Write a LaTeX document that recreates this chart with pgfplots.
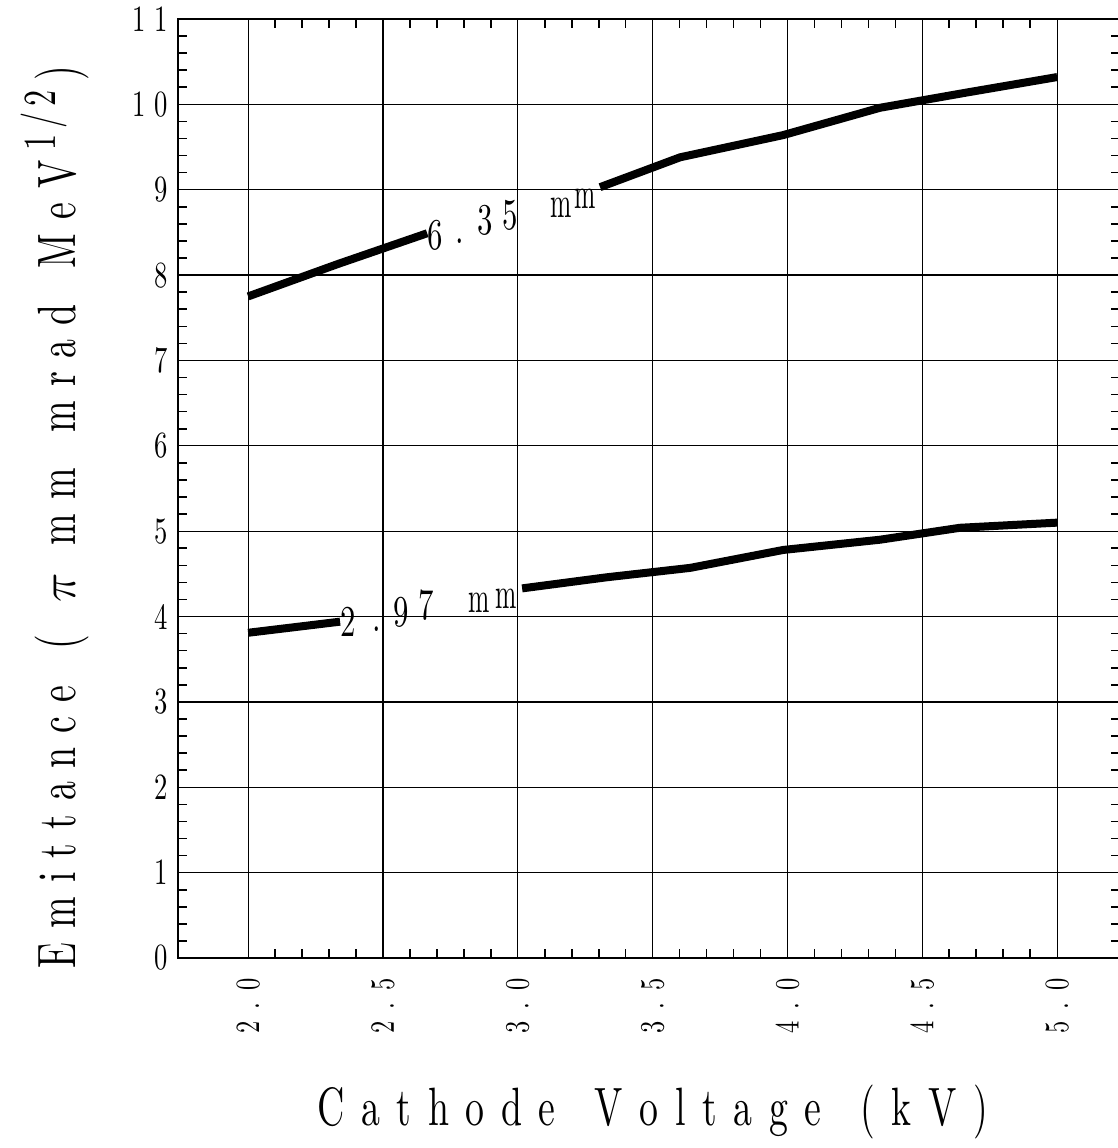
\documentclass[border=0pt]{standalone}
\usepackage{pgfplots}
\pgfplotsset{compat=1.18}
\usepackage{fontspec}
\newfontfamily\labfont[FakeStretch=0.7]{lmroman10-regular.otf}
\newfontfamily\tickfont[FakeStretch=0.72]{lmroman10-regular.otf}
\newfontfamily\annfont[FakeStretch=0.7]{lmroman10-regular.otf}
\newfontfamily\annmfont[FakeStretch=0.58]{lmroman10-regular.otf}
\newdimen\lsk
\def\ls#1{\lsfirst#1\relax}
\def\lsfirst#1{#1\lsrest}
\def\lsrest#1{\ifx#1\relax\else\kern\lsk#1\expandafter\lsrest\fi}
\newcommand\ann[3]{\node[anchor=base west,inner sep=0pt,font=\annfont\fontsize{22pt}{24pt}\selectfont] at (axis cs:#1,#2) {#3};}
\newcommand\annm[2]{\node[anchor=base west,inner sep=0pt,font=\annmfont\fontsize{22pt}{24pt}\selectfont] at (axis cs:#1,#2) {m};}
\newcommand\yk{\kern4pt}
\newcommand\xk{\kern6pt}
\begin{document}
\begin{tikzpicture}
\begin{axis}[
  at={(0,0)}, anchor=south west,
  scale only axis, width=471pt, height=469.5pt,
  xmin=1.74, xmax=5.233, ymin=0, ymax=11,
  xtick={2,2.5,3,3.5,4,4.5,5},
  xticklabels={2\xk.\xk0,2\xk.\xk5,3\xk.\xk0,3\xk.\xk5,4\xk.\xk0,4\xk.\xk5,5\xk.\xk0},
  ytick={0,1,2,3,4,5,6,7,8,9,10,11},
  yticklabels={0,1,2,3,4,5,6,7,8,9,1\yk0,1\yk1},
  minor x tick num=4, minor y tick num=4,
  grid=major, major grid style={black, line width=0.6pt},
  axis line style={black, line width=1pt},
  tick align=inside, major tick length=0pt, minor tick length=4.5pt,
  minor tick style={black, line width=0.8pt},
  xticklabel style={rotate=90, anchor=east, inner sep=0pt, font=\tickfont\fontsize{17pt}{18pt}\selectfont},
  xticklabel shift=10pt,
  yticklabel style={anchor=east, inner sep=0pt, font=\tickfont\fontsize{18.5pt}{20pt}\selectfont},
  yticklabel shift=5pt,
  xlabel={\lsk=8.3pt\ls{Cathode}\hspace*{19.5pt}\ls{Voltage}\hspace*{19.5pt}\ls{(kV)}},
  xlabel style={at={(axis description cs:0.504,-0.164)}, anchor=center, font=\labfont\fontsize{27pt}{30pt}\selectfont},
  ylabel={\lsk=7pt\ls{Emittance}\hspace*{18pt}(\hspace*{16pt}$\pi$\hspace*{14pt}\ls{mm}\hspace*{18pt}\ls{mrad}\hspace*{18pt}\ls{MeV}\hspace*{5pt}\raisebox{0.37em}{\fontsize{23pt}{25pt}\selectfont\lsk=3pt\ls{1/2}}\hspace*{5pt})},
  ylabel style={at={(axis description cs:-0.1306,0.470)}, anchor=center, font=\labfont\fontsize{27pt}{30pt}\selectfont},
  clip=false,
]
% 6.35 mm curve
\addplot[black, line width=4pt] coordinates {(2.0,7.75) (2.333,8.13) (2.664,8.49)};
\addplot[black, line width=4pt] coordinates {(3.305,9.03) (3.602,9.38) (3.984,9.64) (4.343,9.96) (4.667,10.14) (5.0,10.32)};
% 2.97 mm curve
\addplot[black, line width=4pt] coordinates {(2.0,3.81) (2.341,3.94)};
\addplot[black, line width=4pt] coordinates {(3.016,4.33) (3.33,4.46) (3.639,4.57) (3.984,4.78) (4.343,4.90) (4.64,5.04) (5.0,5.10)};
% labels
\ann{2.664}{8.294}{6}
\ann{2.768}{8.365}{.}
\ann{2.849}{8.478}{3}
\ann{2.942}{8.537}{5}
\annm{3.120}{8.669}
\annm{3.209}{8.785}
\ann{2.341}{3.761}{2}
\ann{2.460}{3.819}{.}
\ann{2.538}{3.878}{9}
\ann{2.630}{3.960}{7}
\annm{2.816}{4.042}
\annm{2.916}{4.089}
\end{axis}
\pgfresetboundingbox
\path[use as bounding box] (-89pt,-95pt) rectangle (470pt,479pt);
\end{tikzpicture}
\end{document}
